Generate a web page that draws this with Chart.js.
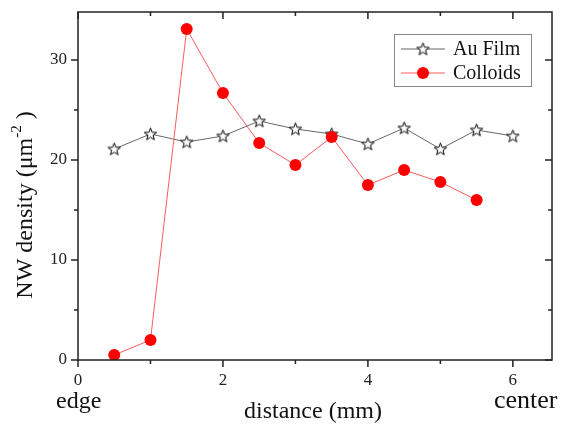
<!DOCTYPE html>
<html>
<head>
<meta charset="utf-8">
<script src="https://cdn.jsdelivr.net/npm/chart.js@4"></script>
<style>
  body { margin: 0; background: #fff; }
</style>
</head>
<body>
<canvas id="chart" width="566" height="424"></canvas>
<script>
// values
const xAu = [0.5, 1, 1.5, 2, 2.5, 3, 3.5, 4, 4.5, 5, 5.5, 6];
const auFilm = [21.1, 22.6, 21.8, 22.4, 23.9, 23.1, 22.6, 21.6, 23.2, 21.1, 23.0, 22.4];
const xColloids = [0.5, 1, 1.5, 2, 2.5, 3, 3.5, 4, 4.5, 5, 5.5];
const colloids = [0.5, 2.0, 33.1, 26.7, 21.7, 19.5, 22.3, 17.5, 19.0, 17.8, 16.0];
const xTicks = [0, 2, 4, 6];
const xMinor = [1, 3, 5];
const yTicks = [0, 10, 20, 30];
const yMinor = [5, 15, 25];

const serif = '"Liberation Serif", "Times New Roman", serif';

// open five point star used as marker
function makeStar(size) {
    const c = document.createElement('canvas');
    c.width = size; c.height = size;
    const g = c.getContext('2d');
    const cx = size / 2, cy = size / 2 + 0.5, R = size / 2 - 1, r = R * 0.42;
    g.beginPath();
    for (let i = 0; i < 10; i++) {
        const rad = i % 2 ? r : R;
        const a = -Math.PI / 2 + i * Math.PI / 5;
        g.lineTo(cx + rad * Math.cos(a), cy + rad * Math.sin(a));
    }
    g.closePath();
    g.fillStyle = '#fff';
    g.fill();
    g.strokeStyle = '#000';
    g.lineWidth = 1;
    g.stroke();
    return c;
}
const star = makeStar(15);

const frame = {
    id: 'frame',
    afterDraw(chart) {
        const ctx = chart.ctx;
        const a = chart.chartArea;
        const sx = chart.scales.x, sy = chart.scales.y;
        ctx.save();
        ctx.strokeStyle = '#222';
        ctx.lineWidth = 1.5;
        ctx.strokeRect(a.left, a.top, a.right - a.left, a.bottom - a.top);

        // ticks: outward on bottom/left, inward on top/right
        const tick = (v, len, isX) => {
            ctx.beginPath();
            if (isX) {
                const p = sx.getPixelForValue(v);
                ctx.moveTo(p, a.bottom); ctx.lineTo(p, a.bottom + len);
                ctx.moveTo(p, a.top); ctx.lineTo(p, a.top + len);
            } else {
                const p = sy.getPixelForValue(v);
                ctx.moveTo(a.left, p); ctx.lineTo(a.left - len, p);
                ctx.moveTo(a.right, p); ctx.lineTo(a.right - len, p);
            }
            ctx.stroke();
        };
        xTicks.forEach(v => tick(v, 7, true));
        xMinor.forEach(v => tick(v, 4, true));
        yTicks.forEach(v => tick(v, 7, false));
        yMinor.forEach(v => tick(v, 4, false));

        // axis titles and end labels
        ctx.fillStyle = '#111';
        ctx.textBaseline = 'middle';
        ctx.font = '24px ' + serif;
        ctx.textAlign = 'center';
        ctx.fillText('distance (mm)', 313, 412);
        ctx.textAlign = 'left';
        ctx.fillText('edge', 56, 402);
        ctx.font = '26px ' + serif;
        ctx.fillText('center', 494, 401);

        // y title with superscript
        ctx.translate(26, 205);
        ctx.rotate(-Math.PI / 2);
        const main = 'NW density (\u03bcm';
        const sup = '-2';
        const end = ' )';
        ctx.font = '24px ' + serif;
        const w1 = ctx.measureText(main).width;
        const w3 = ctx.measureText(end).width;
        ctx.font = '15px ' + serif;
        const w2 = ctx.measureText(sup).width;
        let x = -(w1 + w2 + w3) / 2;
        ctx.textAlign = 'left';
        ctx.font = '24px ' + serif;
        ctx.fillText(main, x, 0);
        x += w1;
        ctx.font = '15px ' + serif;
        ctx.fillText(sup, x, -9);
        x += w2;
        ctx.font = '24px ' + serif;
        ctx.fillText(end, x, 0);
        ctx.restore();

        // legend box
        ctx.save();
        ctx.strokeStyle = '#888';
        ctx.lineWidth = 1;
        ctx.strokeRect(394.5, 34.5, 137, 52);
        const rows = [
            { label: 'Au Film', y: 49, line: '#666', marker: 'star' },
            { label: 'Colloids', y: 73, line: '#ff5a5a', marker: 'dot' }
        ];
        rows.forEach(r => {
            ctx.strokeStyle = r.line;
            ctx.beginPath();
            ctx.moveTo(401, r.y); ctx.lineTo(445, r.y);
            ctx.stroke();
            if (r.marker === 'star') {
                ctx.drawImage(star, 423 - star.width / 2, r.y - star.height / 2);
            } else {
                ctx.fillStyle = '#ff0000';
                ctx.beginPath();
                ctx.arc(423, r.y, 6, 0, Math.PI * 2);
                ctx.fill();
            }
            ctx.fillStyle = '#111';
            ctx.font = '20px ' + serif;
            ctx.textAlign = 'left';
            ctx.textBaseline = 'middle';
            ctx.fillText(r.label, 453, r.y + 1);
        });
        ctx.restore();
    }
};

new Chart(document.getElementById('chart'), {
    type: 'line',
    data: {
        datasets: [{
            label: 'Au Film',
            data: xAu.map((x, i) => ({ x: x, y: auFilm[i] })),
            borderColor: '#666',
            borderWidth: 1,
            pointStyle: star,
            pointRadius: 7,
            order: 1
        }, {
            label: 'Colloids',
            data: xColloids.map((x, i) => ({ x: x, y: colloids[i] })),
            borderColor: '#ff5a5a',
            borderWidth: 1,
            pointStyle: 'circle',
            pointRadius: 6,
            pointBackgroundColor: '#ff0000',
            pointBorderColor: '#ff0000',
            pointBorderWidth: 0,
            order: 0
        }]
    },
    options: {
        responsive: false,
        animation: false,
        layout: { padding: { top: 12, right: 14, left: 0, bottom: 0 } },
        plugins: { legend: { display: false }, tooltip: { enabled: false } },
        scales: {
            x: {
                type: 'linear',
                min: 0,
                max: 6.54,
                afterBuildTicks: s => { s.ticks = xTicks.map(v => ({ value: v })); },
                afterFit: s => { s.height = 64; s.paddingLeft = 0; s.paddingRight = 0; },
                grid: { display: false, drawTicks: false },
                border: { display: false },
                ticks: { padding: 10, maxRotation: 0, color: '#222', font: { family: serif, size: 17 } }
            },
            y: {
                min: 0,
                max: 34.8,
                afterBuildTicks: s => { s.ticks = yTicks.map(v => ({ value: v })); },
                afterFit: s => { s.width = 78; s.paddingTop = 0; s.paddingBottom = 0; },
                grid: { display: false, drawTicks: false },
                border: { display: false },
                ticks: { padding: 11, color: '#222', font: { family: serif, size: 17 } }
            }
        }
    },
    plugins: [frame]
});
</script>
</body>
</html>
